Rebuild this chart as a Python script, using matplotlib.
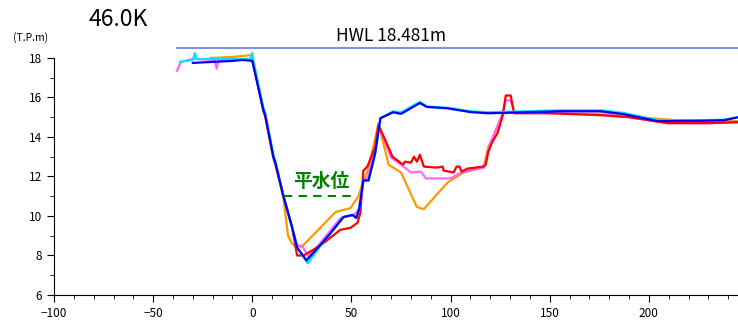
import matplotlib
matplotlib.use("Agg")
import matplotlib.pyplot as plt
from matplotlib.ticker import MultipleLocator

plt.rcParams['font.family'] = ['Noto Sans CJK JP', 'DejaVu Sans']

# cross-section profiles (distance m, elevation T.P.m)
blue_x = [-30, -10, -5, 0, 5.5, 6.5, 10.6, 11.6, 15.7, 20, 22.6, 27.3, 34, 38.4, 46, 50.5, 52.5, 54, 56, 58.6, 62, 64.6,
          71, 75, 84.5, 88, 98.5, 110, 119, 155.5, 176, 187, 204.5, 226, 238, 245]
blue_y = [17.75, 17.85, 17.9, 17.85, 15.4, 15.1, 13.0, 12.7, 11.0, 9.45, 8.4, 7.75, 8.5, 9.0, 9.95, 10.05, 9.9, 10.4, 11.8, 11.8, 13.2, 14.95,
          15.25, 15.17, 15.72, 15.52, 15.45, 15.26, 15.2, 15.3, 15.3, 15.16, 14.8, 14.82, 14.85, 15.0]

cyan_x = [-36.5, -30, -29, -28, -10, -1, 0, 0.5, 5.5, 6.5, 10.6, 11.6, 15.7, 20, 22.6, 28, 34, 38.4, 46, 50.5, 52.5, 54, 56, 58.6, 62, 64.6,
          71, 75, 84.5, 88, 98.5, 110, 119, 155.5, 176, 187, 204.5, 226, 238, 245]
cyan_y = [17.8, 17.9, 18.25, 17.95, 17.95, 17.95, 18.25, 17.85, 15.5, 15.2, 13.1, 12.8, 11.0, 9.45, 8.4, 7.6, 8.45, 9.0, 9.95, 10.05, 9.95, 10.4, 11.8, 11.8, 13.2, 14.95,
          15.3, 15.25, 15.78, 15.55, 15.48, 15.3, 15.25, 15.35, 15.35, 15.22, 14.85, 14.85, 14.87, 15.0]

magenta_x = [-38, -36, -30, -19, -18, -17, -5, 0, 5.5, 6.5, 10.6, 11.6, 15.7, 20, 22.6, 25, 28.3, 34, 44.5, 51, 53.5, 56, 58.6, 62, 63.6,
             70, 75, 80, 85, 87.5, 100, 105, 117, 120, 126.3, 127.8, 130.3, 132, 150, 176, 190, 209.6, 230, 245]
magenta_y = [17.35, 17.8, 17.95, 17.9, 17.45, 17.9, 17.95, 17.95, 15.4, 15.1, 13.0, 12.7, 11.0, 9.45, 8.5, 8.5, 7.95, 8.6, 9.9, 10.05, 10.3, 11.8, 12.0, 13.5, 14.6,
             12.95, 12.6, 12.2, 12.25, 11.9, 11.9, 12.2, 12.45, 13.7, 15.2, 15.85, 15.85, 15.27, 15.2, 15.15, 15.0, 14.7, 14.7, 14.75]

red_x = [0, 5.5, 6.5, 10.6, 11.6, 15.7, 20, 22.6, 25.8, 34.3, 44.4, 49.5, 53, 54.5, 56, 58, 62, 63.6, 67, 70.7, 76, 77, 80, 81.5, 83, 84.5, 86.5,
         93, 96, 96.5, 101.5, 103, 104.5, 105.5, 108.5, 116.5, 117.7, 119, 121, 123.7, 126.3, 127.8, 130.3, 132, 150, 176, 190, 209.6, 230, 245]
red_y = [17.9, 15.4, 15.1, 13.0, 12.7, 11.0, 9.45, 8.0, 8.0, 8.5, 9.3, 9.4, 9.65, 10.15, 12.3, 12.5, 13.5, 14.6, 13.85, 13.0, 12.6, 12.75, 12.7, 13.0, 12.75, 13.1, 12.5,
         12.45, 12.5, 12.3, 12.2, 12.5, 12.5, 12.25, 12.4, 12.5, 12.6, 13.25, 13.75, 14.2, 15.1, 16.1, 16.1, 15.2, 15.2, 15.1, 15.0, 14.7, 14.7, 14.75]

orange_x = [-21, -10, 0, 5.5, 6.5, 10.6, 11.6, 15.7, 18, 20, 22, 25, 42, 49.5, 53.5, 56, 58, 61, 63.6, 68.7, 75, 83, 86.5,
            98.5, 106.5, 116.7, 119, 121, 126.3, 150, 175, 185, 201, 220, 245]
orange_y = [18.0, 18.05, 18.15, 15.3, 15.0, 12.9, 12.6, 10.9, 9.0, 8.6, 8.45, 8.45, 10.2, 10.4, 11.0, 11.8, 12.2, 13.5, 14.7, 12.6, 12.2, 10.45, 10.35,
            11.7, 12.2, 12.5, 13.5, 13.85, 15.2, 15.3, 15.3, 15.1, 14.95, 14.8, 14.8]

hwl = 18.481
hwl_x = [-38, 245]
normal_level = 11.0
normal_x = [16, 52]

fig = plt.figure(figsize=(7.38, 3.21), dpi=100)
ax = fig.add_axes([0.0732, 0.081, 0.927, 0.80])

ax.plot(hwl_x, [hwl, hwl], color='#7b93e6', lw=1.5, clip_on=False)
ax.text(70, hwl + 0.15, 'HWL 18.481m', ha='center', va='bottom', fontsize=12.5, clip_on=False)

ax.plot(orange_x, orange_y, color='#ff9900', lw=1.6)
ax.plot(magenta_x, magenta_y, color='#ff66ff', lw=1.6)
ax.plot(red_x, red_y, color='#ff0000', lw=1.6)
ax.plot(cyan_x, cyan_y, color='#00e5ff', lw=1.6)
ax.plot(blue_x, blue_y, color='#0000ff', lw=1.6)

ax.plot(normal_x, [normal_level, normal_level], color='#008000', lw=1.5, ls=(0, (4, 3)))
ax.text(35, normal_level + 0.25, '平水位', color='#008000', fontsize=13.5, fontweight='bold', ha='center', va='bottom')

ax.set_xlim(-100, 245)
ax.set_ylim(6, 19)
ax.spines['top'].set_visible(False)
ax.spines['right'].set_visible(False)
ax.spines['left'].set_bounds(6, 18)
ax.xaxis.set_major_locator(MultipleLocator(50))
ax.xaxis.set_minor_locator(MultipleLocator(10))
ax.set_yticks([6, 8, 10, 12, 14, 16, 18])
ax.set_yticks([7, 9, 11, 13, 15, 17], minor=True)
ax.tick_params(which='major', length=5, labelsize=8.5)
ax.tick_params(which='minor', length=3)

fig.text(0.16, 0.94, '46.0K', fontsize=16.5, ha='center', va='center')
fig.text(0.042, 0.882, '(T.P.m)', fontsize=7.5, ha='center', va='center')

fig.savefig('out.png', dpi=100)
